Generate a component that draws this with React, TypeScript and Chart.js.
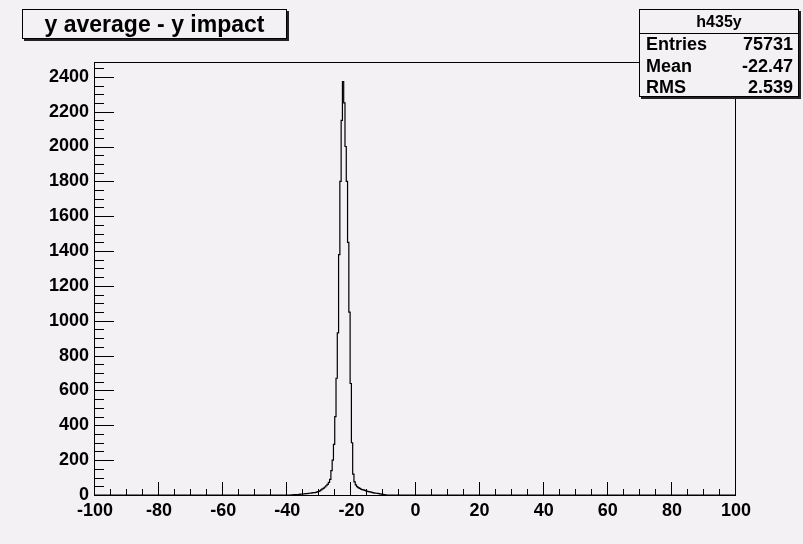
import { useEffect, useRef } from "react";
import Chart from "chart.js/auto";

const BG = "#f4f1f4";
const FONT = "'Liberation Sans', Arial, Helvetica, sans-serif";

// histogram: bins of 0.4 starting at -40, everything else is empty
const binLow = -40;
const binWidth = 0.4;
const counts = [
  0, 0, 0, 1, 1, 2, 2, 3, 3, 4,
  5, 5, 6, 7, 8, 8, 9, 10, 11, 12,
  14, 13, 15, 18, 20, 24, 29, 35, 40, 46,
  53, 61, 72, 90, 140, 200, 290, 450, 670, 930,
  1380, 1800, 2150, 2372, 2250, 2000, 1800, 1450, 1050, 640,
  300, 120, 75, 58, 48, 42, 38, 34, 31, 29,
  27, 24, 21, 19, 18, 16, 14, 12, 11, 10,
  9, 8, 7, 5, 4, 2, 1, 0,
];

const xTicks = [-100, -80, -60, -40, -20, 0, 20, 40, 60, 80, 100];
const yTicks = [0, 200, 400, 600, 800, 1000, 1200, 1400, 1600, 1800, 2000, 2200, 2400];
const xMin = -100;
const xMax = 100;
const yMax = 2485;
const xMinorStep = 5;
const yMinorStep = 50;

const title = "y average - y impact";
const histName = "h435y";
const statNames = ["Entries", "Mean", "RMS"];
const statValues = ["75731", "-22.47", "2.539"];

const frameTicks = {
  id: "frameTicks",
  afterDatasetsDraw(chart: any) {
    const { ctx, chartArea: a, scales } = chart;
    const x = scales.x;
    const y = scales.y;
    ctx.save();
    ctx.strokeStyle = "#000";
    ctx.lineWidth = 1;
    ctx.strokeRect(Math.round(a.left) - 0.5, Math.round(a.top) + 0.5, Math.round(a.right - a.left), Math.round(a.bottom - a.top));
    ctx.beginPath();
    for (let v = xMin; v <= xMax; v += xMinorStep) {
      const px = Math.round(x.getPixelForValue(v)) - 0.5;
      const len = v % 20 === 0 ? 13 : 6;
      ctx.moveTo(px, a.bottom);
      ctx.lineTo(px, a.bottom - len);
    }
    for (let v = 0; v <= yMax; v += yMinorStep) {
      const py = Math.round(y.getPixelForValue(v)) + 0.5;
      const len = v % 200 === 0 ? 19 : 9;
      ctx.moveTo(a.left, py);
      ctx.lineTo(a.left + len, py);
    }
    ctx.stroke();
    ctx.restore();
  },
};

function Histogram() {
  const canvasRef = useRef<HTMLCanvasElement | null>(null);

  useEffect(() => {
    const canvas = canvasRef.current;
    if (!canvas) return;
    const points: { x: number; y: number }[] = [{ x: xMin, y: 0 }];
    counts.forEach((c, i) => points.push({ x: binLow + i * binWidth, y: c }));
    points.push({ x: binLow + counts.length * binWidth, y: 0 });
    points.push({ x: xMax, y: 0 });

    const tickFont = { family: FONT, size: 18, weight: "bold" as const };
    const chart = new Chart(canvas, {
      type: "line",
      data: {
        datasets: [
          {
            data: points,
            stepped: true,
            borderColor: "#000",
            borderWidth: 1.2,
            pointRadius: 0,
            fill: false,
          },
        ],
      },
      options: {
        animation: false,
        responsive: true,
        maintainAspectRatio: false,
        layout: { padding: { left: 0, right: 67, top: 62, bottom: 0 } },
        plugins: { legend: { display: false }, tooltip: { enabled: false } },
        scales: {
          x: {
            type: "linear",
            min: xMin,
            max: xMax,
            afterBuildTicks: (s: any) => {
              s.ticks = xTicks.map((value) => ({ value }));
            },
            afterFit: (s: any) => {
              s.height = 49;
            },
            grid: { display: false, drawTicks: false },
            border: { display: false },
            ticks: {
              color: "#000",
              font: tickFont,
              padding: 5,
              maxRotation: 0,
              autoSkip: false,
              callback: (v) => String(v),
            },
          },
          y: {
            type: "linear",
            min: 0,
            max: yMax,
            afterBuildTicks: (s: any) => {
              s.ticks = yTicks.map((value) => ({ value }));
            },
            afterFit: (s: any) => {
              s.width = 95;
            },
            grid: { display: false, drawTicks: false },
            border: { display: false },
            ticks: {
              color: "#000",
              font: tickFont,
              padding: 6,
              autoSkip: false,
              callback: (v) => String(v),
            },
          },
        },
      },
      plugins: [frameTicks],
    });
    return () => chart.destroy();
  }, []);

  return <canvas ref={canvasRef} />;
}

const boxStyle: React.CSSProperties = {
  position: "absolute",
  boxSizing: "border-box",
  border: "1px solid #000",
  boxShadow: "2px 2px 0 #222",
  background: BG,
  fontFamily: FONT,
  fontWeight: "bold",
  color: "#000",
};

export default function App() {
  return (
    <div style={{ position: "fixed", inset: 0, background: BG }}>
      <div style={{ position: "absolute", left: 0, top: 0, width: 803, height: 544 }}>
        <Histogram />
        <div
          style={{
            ...boxStyle,
            left: 22,
            top: 9,
            width: 265,
            height: 30,
            fontSize: 23,
            lineHeight: "29px",
            textAlign: "center",
          }}
        >
          {title}
        </div>
        <div style={{ ...boxStyle, left: 639, top: 9, width: 160, height: 88 }}>
          <div
            style={{
              height: 23,
              borderBottom: "1px solid #000",
              textAlign: "center",
              fontSize: 16,
              lineHeight: "23px",
            }}
          >
            {histName}
          </div>
          {statNames.map((name, i) => (
            <div
              key={name}
              style={{
                position: "absolute",
                left: 6,
                right: 5,
                top: 23 + i * 21.7,
                height: 22,
                lineHeight: "22px",
                fontSize: 18,
                display: "flex",
                justifyContent: "space-between",
              }}
            >
              <span>{name}</span>
              <span>{statValues[i]}</span>
            </div>
          ))}
        </div>
      </div>
    </div>
  );
}
